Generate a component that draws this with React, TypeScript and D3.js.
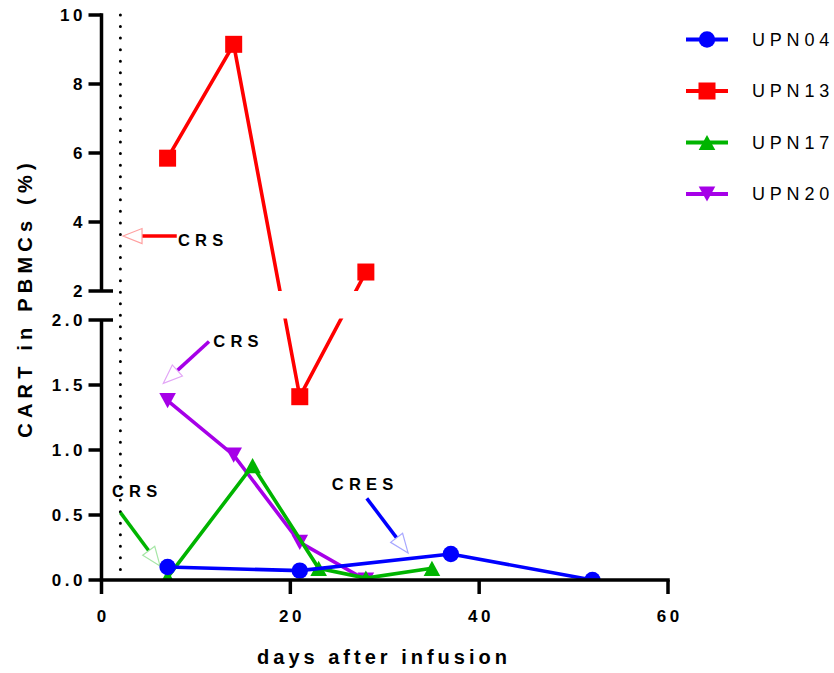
import * as d3 from "d3";

// days after infusion / CART in PBMCs (%)
const days04 = [7, 21, 37, 52];
const vals04 = [0.1, 0.072, 0.2, 0.0];
const days13 = [7, 14, 21, 28];
const vals13 = [5.85, 9.15, 1.41, 2.55];
const days17 = [7, 16, 23, 28, 35];
const vals17 = [0.02, 0.88, 0.09, 0.015, 0.09];
const days20 = [7, 14, 21, 28];
const vals20 = [1.38, 0.96, 0.29, 0.0];

const names = ["UPN04", "UPN13", "UPN17", "UPN20"];
const colors = ["#0000ff", "#ff0000", "#00b400", "#a600e8"];
const shapes = ["circle", "square", "up", "down"];

const xTicks = [0, 20, 40, 60];
const topTicks = [2, 4, 6, 8, 10];
const bottomTicks = [0, 0.5, 1.0, 1.5, 2.0];

// annotations: [day, value] pairs, each in one segment of the broken axis
const noteLabels = ["CRS", "CRS", "CRS", "CRES"];
const noteColors = ["#ff0000", "#a600e8", "#00b400", "#0000ff"];
const notePale = ["#ffa0a0", "#e2a6f6", "#a6e6a6", "#a8a8ff"];
const noteSeg = ["top", "bottom", "bottom", "bottom"];
const noteFrom = [[7.97, 3.594], [11.39, 1.835], [2.01, 0.518], [28.1, 0.628]];
const noteTo = [[2.28, 3.594], [6.55, 1.513], [6.2, 0.108], [32.47, 0.208]];
const noteText = [[8.1, 3.48], [11.84, 1.84], [1.11, 0.685], [24.39, 0.735]];

const FONT = "Arial, 'Liberation Sans', Helvetica, sans-serif";
const W = 834;
const H = 673;

const x = d3.scaleLinear().domain([0, 60]).range([101.5, 668]);
const yTop = d3.scaleLinear().domain([2, 10]).range([291, 15]);
const yBot = d3.scaleLinear().domain([0, 2]).range([580, 320]);
const y = (v: number) => (v > 2 ? yTop(v) : yBot(v));

function Marker({ shape, cx, cy, color }: { shape: string; cx: number; cy: number; color: string }) {
    if (shape === "circle") return <circle cx={cx} cy={cy} r={8.2} fill={color} />;
    if (shape === "square") return <rect x={cx - 8.5} y={cy - 8.5} width={17} height={17} fill={color} />;
    const hw = 8.3;
    const hh = 7.6;
    const pts =
        shape === "up"
            ? [[cx, cy - hh], [cx + hw, cy + hh], [cx - hw, cy + hh]]
            : [[cx - hw, cy - hh], [cx + hw, cy - hh], [cx, cy + hh]];
    return <polygon points={pts.map((p) => p.join(",")).join(" ")} fill={color} />;
}

function TickText({ x, y, anchor, baseline, children }: any) {
    return (
        <text
            x={x}
            y={y}
            textAnchor={anchor}
            dominantBaseline={baseline}
            fontFamily={FONT}
            fontWeight="bold"
            fontSize={17}
            letterSpacing={3.5}
            fill="#000"
        >
            {children}
        </text>
    );
}

export default function App() {
    const series = [
        { days: days04, vals: vals04 },
        { days: days13, vals: vals13 },
        { days: days17, vals: vals17 },
        { days: days20, vals: vals20 },
    ].map((s, i) => ({ ...s, name: names[i], color: colors[i], shape: shapes[i] }));

    const drawOrder = [3, 2, 1, 0];
    const axisW = 3.5;

    return (
        <svg width={W} height={H} style={{ position: "absolute", left: 0, top: 0, display: "block" }}>
            <defs>
                <clipPath id="clipTop">
                    <rect x={0} y={0} width={W} height={yTop(2)} />
                </clipPath>
                <clipPath id="clipBot">
                    <rect x={0} y={yBot(2) - 1.5} width={W} height={yBot(0) - yBot(2) + 1.5} />
                </clipPath>
                <clipPath id="clipPlot">
                    <rect x={0} y={0} width={W} height={yBot(0)} />
                </clipPath>
            </defs>

            {/* dotted line at day 2 */}
            <line
                x1={x(2)}
                x2={x(2)}
                y1={yTop(10)}
                y2={yBot(0)}
                stroke="#000"
                strokeWidth={3}
                strokeLinecap="round"
                strokeDasharray="0 11.55"
            />

            {/* annotations */}
            {noteLabels.map((lab, i) => {
                const ys = noteSeg[i] === "top" ? yTop : yBot;
                const x1 = x(noteFrom[i][0]);
                const y1 = ys(noteFrom[i][1]);
                const tx = x(noteTo[i][0]);
                const ty = ys(noteTo[i][1]);
                const len = Math.hypot(tx - x1, ty - y1);
                const ux = (tx - x1) / len;
                const uy = (ty - y1) / len;
                const L = 19;
                const w = 7.5;
                const bx = tx - ux * L;
                const by = ty - uy * L;
                const head = [
                    [tx, ty],
                    [bx - uy * w, by + ux * w],
                    [bx + uy * w, by - ux * w],
                ];
                return (
                    <g key={i}>
                        <line x1={x1} y1={y1} x2={bx + ux * 1} y2={by + uy * 1} stroke={noteColors[i]} strokeWidth={3.5} />
                        <polygon
                            points={head.map((p) => p.join(",")).join(" ")}
                            fill="#fff"
                            stroke={notePale[i]}
                            strokeWidth={1.2}
                        />
                        <text
                            x={x(noteText[i][0])}
                            y={ys(noteText[i][1])}
                            dominantBaseline="central"
                            fontFamily={FONT}
                            fontWeight="bold"
                            fontSize={16.5}
                            letterSpacing={5.2}
                            fill="#000"
                        >
                            {lab}
                        </text>
                    </g>
                );
            })}

            {/* series */}
            {drawOrder.map((k) => {
                const s = series[k];
                const path = d3
                    .line<number>()
                    .x((_d, i) => x(s.days[i]))
                    .y((d) => y(d))(s.vals);
                return (
                    <g key={s.name}>
                        <path d={String(path)} fill="none" stroke={s.color} strokeWidth={3.6} clipPath="url(#clipTop)" />
                        <path d={String(path)} fill="none" stroke={s.color} strokeWidth={3.6} clipPath="url(#clipBot)" />
                        <g clipPath="url(#clipPlot)">
                            {s.vals.map((v, i) => (
                                <Marker key={i} shape={s.shape} cx={x(s.days[i])} cy={y(v)} color={s.color} />
                            ))}
                        </g>
                    </g>
                );
            })}

            {/* y axis, top segment */}
            <line x1={x(0)} x2={x(0)} y1={yTop(10) - axisW / 2} y2={yTop(2)} stroke="#000" strokeWidth={axisW} />
            {topTicks.map((t) => (
                <g key={"t" + t}>
                    <line
                        x1={88.5}
                        x2={t === 2 ? 113 : x(0)}
                        y1={yTop(t)}
                        y2={yTop(t)}
                        stroke="#000"
                        strokeWidth={axisW}
                    />
                    <TickText x={86} y={yTop(t)} anchor="end" baseline="central">
                        {t}
                    </TickText>
                </g>
            ))}

            {/* y axis, bottom segment */}
            <line x1={x(0)} x2={x(0)} y1={yBot(2)} y2={yBot(0)} stroke="#000" strokeWidth={axisW} />
            {bottomTicks.map((t) => (
                <g key={"b" + t}>
                    <line
                        x1={88.5}
                        x2={t === 2 ? 113 : x(0)}
                        y1={yBot(t)}
                        y2={yBot(t)}
                        stroke="#000"
                        strokeWidth={axisW}
                    />
                    <TickText x={86} y={yBot(t)} anchor="end" baseline="central">
                        {d3.format(".1f")(t)}
                    </TickText>
                </g>
            ))}

            {/* x axis */}
            <line x1={x(0) - axisW / 2} x2={x(60) + axisW / 2} y1={yBot(0)} y2={yBot(0)} stroke="#000" strokeWidth={axisW} />
            {xTicks.map((t) => (
                <g key={"x" + t}>
                    <line x1={x(t)} x2={x(t)} y1={yBot(0)} y2={yBot(0) + 14} stroke="#000" strokeWidth={axisW} />
                    <TickText x={x(t) + 1.75} y={622} anchor="middle" baseline="auto">
                        {t}
                    </TickText>
                </g>
            ))}

            {/* axis titles */}
            <text
                x={384}
                y={664}
                textAnchor="middle"
                fontFamily={FONT}
                fontWeight="bold"
                fontSize={20}
                letterSpacing={4}
            >
                days after infusion
            </text>
            <text
                transform="translate(32,298) rotate(-90)"
                textAnchor="middle"
                fontFamily={FONT}
                fontWeight="bold"
                fontSize={20}
                letterSpacing={5.2}
            >
                CART in PBMCs (%)
            </text>

            {/* legend */}
            {series.map((s, i) => {
                const ly = 39.5 + i * 51.5;
                return (
                    <g key={"l" + s.name}>
                        <line x1={686} x2={728} y1={ly} y2={ly} stroke={s.color} strokeWidth={4} />
                        <Marker shape={s.shape} cx={707} cy={ly} color={s.color} />
                        <text
                            x={752}
                            y={ly}
                            dominantBaseline="central"
                            fontFamily={FONT}
                            fontSize={18}
                            letterSpacing={4.8}
                            fill="#000"
                        >
                            {s.name}
                        </text>
                    </g>
                );
            })}
        </svg>
    );
}
